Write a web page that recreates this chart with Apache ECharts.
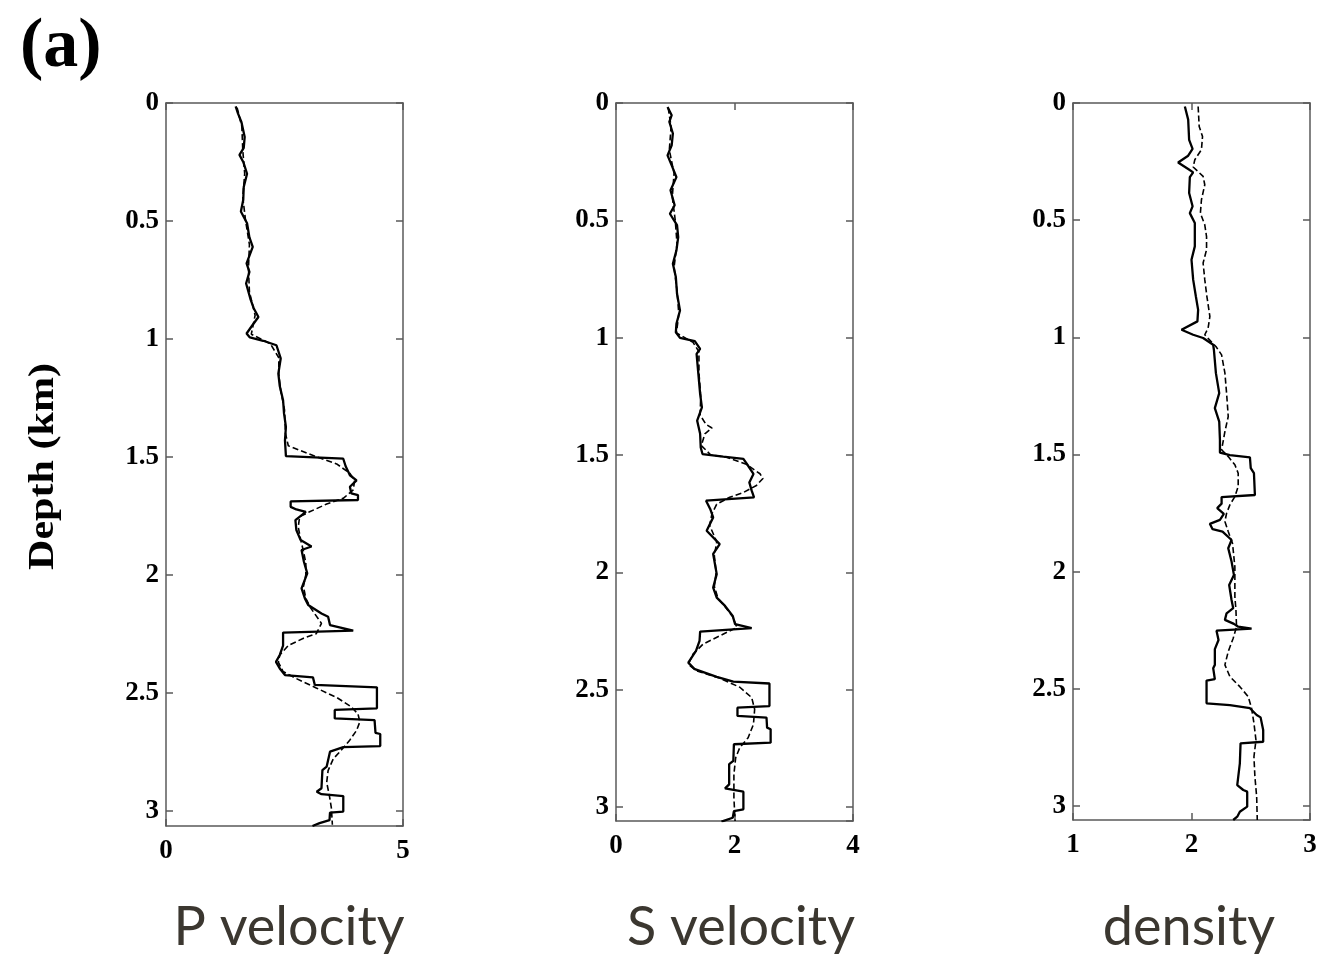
<html>

<head>
  <script src="https://cdn.jsdelivr.net/npm/echarts@6/dist/echarts.min.js"></script>
  <title>Depth logs</title>
</head>

<body style="margin: 0; overflow: hidden;">
  <div id="main" style="width: 1321px; height: 958px;"></div>
  <script>
    var pSolid = [
      [1.47, 0.014], [1.52, 0.045], [1.59, 0.08], [1.66, 0.144], [1.64, 0.19], [1.55, 0.22], [1.63, 0.25],
      [1.71, 0.30], [1.64, 0.356], [1.63, 0.41], [1.58, 0.46], [1.71, 0.51], [1.76, 0.57], [1.83, 0.61],
      [1.70, 0.68], [1.76, 0.716], [1.69, 0.765], [1.78, 0.83], [1.85, 0.87], [1.95, 0.907], [1.83, 0.94],
      [1.70, 0.977], [1.77, 0.994], [2.05, 1.008], [2.33, 1.027], [2.33, 1.034], [2.42, 1.083], [2.37, 1.147],
      [2.40, 1.20], [2.47, 1.26], [2.49, 1.316], [2.53, 1.373], [2.51, 1.43], [2.53, 1.497], [3.74, 1.508],
      [3.79, 1.54], [3.88, 1.578], [4.02, 1.60], [3.88, 1.627], [3.91, 1.655], [4.05, 1.662], [4.05, 1.683],
      [2.63, 1.689], [2.63, 1.712], [2.75, 1.723], [2.95, 1.733], [2.73, 1.768], [2.75, 1.81], [2.84, 1.853],
      [3.07, 1.88], [2.86, 1.895], [2.91, 1.945], [2.98, 1.994], [2.86, 2.058], [2.93, 2.10], [3.0, 2.128],
      [3.28, 2.164], [3.42, 2.178], [3.46, 2.213], [3.45, 2.22], [3.95, 2.237], [2.47, 2.245], [2.47, 2.30],
      [2.40, 2.34], [2.32, 2.369], [2.40, 2.397], [2.51, 2.425], [3.10, 2.435], [3.14, 2.467], [4.45, 2.477],
      [4.45, 2.566], [3.56, 2.573], [3.56, 2.609], [4.40, 2.616], [4.42, 2.67], [4.52, 2.675], [4.52, 2.726],
      [3.74, 2.731], [3.46, 2.75], [3.39, 2.813], [3.30, 2.828], [3.28, 2.905], [3.18, 2.92], [3.28, 2.93],
      [3.74, 2.938], [3.74, 3.004], [3.46, 3.008], [3.45, 3.04], [3.24, 3.053], [3.09, 3.065]
    ];
    var pDashed = [
      [1.50, 0.02], [1.60, 0.10], [1.62, 0.20], [1.66, 0.30], [1.62, 0.40], [1.68, 0.50], [1.76, 0.60],
      [1.74, 0.70], [1.76, 0.80], [1.88, 0.90], [1.80, 0.98], [2.20, 1.02], [2.38, 1.08], [2.38, 1.15],
      [2.42, 1.22], [2.50, 1.30], [2.52, 1.40], [2.58, 1.453], [3.17, 1.50], [3.60, 1.53], [3.88, 1.57],
      [3.98, 1.60], [3.95, 1.64], [3.74, 1.676], [3.39, 1.70], [3.03, 1.733], [2.82, 1.754], [2.79, 1.797],
      [2.84, 1.85], [2.90, 1.90], [2.95, 1.95], [2.95, 2.0], [2.90, 2.05], [2.95, 2.10], [3.05, 2.14],
      [3.28, 2.206], [3.17, 2.25], [2.89, 2.27], [2.58, 2.30], [2.40, 2.34], [2.37, 2.37], [2.47, 2.41],
      [2.75, 2.44], [3.17, 2.48], [3.60, 2.52], [3.91, 2.56], [4.05, 2.59], [4.09, 2.623], [4.02, 2.66],
      [3.88, 2.70], [3.67, 2.75], [3.53, 2.78], [3.42, 2.83], [3.39, 2.88], [3.45, 2.94], [3.49, 2.99],
      [3.51, 3.06]
    ];
    var sSolid = [
      [0.87, 0.017], [0.94, 0.052], [0.90, 0.08], [0.96, 0.13], [0.94, 0.18], [0.87, 0.223], [0.94, 0.266],
      [1.02, 0.316], [0.92, 0.372], [0.99, 0.436], [0.91, 0.472], [1.03, 0.52], [1.05, 0.572], [1.02, 0.628],
      [0.96, 0.685], [1.01, 0.742], [1.03, 0.813], [1.08, 0.884], [1.02, 0.941], [1.01, 0.977], [1.08, 1.001],
      [1.33, 1.015], [1.42, 1.048], [1.36, 1.069], [1.39, 1.154], [1.42, 1.24], [1.45, 1.297], [1.37, 1.354],
      [1.42, 1.41], [1.43, 1.468], [1.46, 1.496], [1.81, 1.507], [2.15, 1.517], [2.23, 1.546], [2.32, 1.581],
      [2.25, 1.617], [2.29, 1.652], [2.33, 1.681], [1.52, 1.695], [1.59, 1.73], [1.64, 1.766], [1.53, 1.823],
      [1.75, 1.88], [1.64, 1.922], [1.70, 2.008], [1.64, 2.065], [1.70, 2.108], [1.84, 2.143], [1.97, 2.186],
      [2.01, 2.221], [2.29, 2.238], [1.42, 2.253], [1.41, 2.292], [1.35, 2.335], [1.22, 2.385], [1.33, 2.413],
      [1.70, 2.446], [1.98, 2.466], [2.59, 2.474], [2.59, 2.57], [2.05, 2.577], [2.05, 2.612], [2.54, 2.619],
      [2.55, 2.662], [2.61, 2.669], [2.61, 2.726], [1.99, 2.733], [1.98, 2.804], [1.91, 2.818], [1.91, 2.904],
      [1.84, 2.921], [2.15, 2.935], [2.15, 3.01], [1.99, 3.018], [1.97, 3.046], [1.78, 3.063]
    ];
    var sDashed = [
      [0.88, 0.02], [0.93, 0.10], [0.90, 0.20], [0.98, 0.30], [0.95, 0.40], [1.00, 0.50], [1.03, 0.60],
      [0.98, 0.70], [1.03, 0.80], [1.06, 0.90], [1.02, 0.98], [1.30, 1.02], [1.40, 1.06], [1.40, 1.15],
      [1.43, 1.25], [1.42, 1.33], [1.52, 1.37], [1.62, 1.385], [1.50, 1.41], [1.44, 1.46], [1.60, 1.50],
      [1.87, 1.51], [2.20, 1.54], [2.43, 1.58], [2.48, 1.60], [2.37, 1.63], [2.15, 1.66], [1.92, 1.68],
      [1.70, 1.71], [1.62, 1.75], [1.58, 1.80], [1.70, 1.87], [1.66, 1.93], [1.69, 2.0], [1.66, 2.06],
      [1.72, 2.11], [1.85, 2.15], [1.97, 2.19], [2.04, 2.235], [1.75, 2.271], [1.47, 2.306], [1.30, 2.349],
      [1.22, 2.392], [1.36, 2.42], [1.75, 2.451], [2.09, 2.49], [2.29, 2.534], [2.34, 2.584], [2.32, 2.648],
      [2.23, 2.705], [2.09, 2.747], [2.02, 2.79], [1.99, 2.861], [1.99, 2.961], [2.01, 3.06]
    ];
    var rhoSolid = [
      [1.944, 0.015], [1.972, 0.071], [1.98, 0.157], [2.009, 0.196], [1.972, 0.225], [1.887, 0.254],
      [1.972, 0.282], [2.014, 0.296], [1.986, 0.316], [1.98, 0.384], [2.009, 0.441], [1.986, 0.47],
      [2.028, 0.512], [2.028, 0.612], [2.0, 0.669], [2.014, 0.754], [2.037, 0.826], [2.056, 0.883],
      [2.05, 0.932], [1.916, 0.968], [2.014, 0.989], [2.098, 1.003], [2.183, 1.032], [2.189, 1.053],
      [2.206, 1.153], [2.234, 1.238], [2.197, 1.302], [2.234, 1.36], [2.24, 1.438], [2.24, 1.492],
      [2.324, 1.503], [2.493, 1.512], [2.5, 1.558], [2.527, 1.58], [2.535, 1.673], [2.254, 1.682],
      [2.254, 1.71], [2.217, 1.729], [2.273, 1.754], [2.24, 1.779], [2.155, 1.796], [2.178, 1.819],
      [2.262, 1.829], [2.338, 1.865], [2.31, 1.9], [2.338, 1.957], [2.358, 2.014], [2.318, 2.057],
      [2.338, 2.121], [2.352, 2.156], [2.296, 2.178], [2.282, 2.206], [2.358, 2.223], [2.394, 2.235],
      [2.507, 2.243], [2.211, 2.252], [2.228, 2.292], [2.197, 2.331], [2.197, 2.398], [2.183, 2.412],
      [2.197, 2.459], [2.127, 2.465], [2.127, 2.562], [2.324, 2.57], [2.493, 2.583], [2.55, 2.612],
      [2.583, 2.622], [2.605, 2.676], [2.605, 2.726], [2.414, 2.733], [2.408, 2.818], [2.386, 2.911],
      [2.437, 2.932], [2.47, 2.939], [2.47, 3.003], [2.408, 3.025], [2.386, 3.046], [2.352, 3.06]
    ];
    var rhoDashed = [
      [2.056, 0.015], [2.065, 0.10], [2.093, 0.143], [2.084, 0.199], [2.028, 0.242], [2.014, 0.273],
      [2.098, 0.313], [2.112, 0.349], [2.084, 0.413], [2.075, 0.47], [2.112, 0.52], [2.127, 0.57],
      [2.127, 0.626], [2.098, 0.683], [2.112, 0.754], [2.13, 0.826], [2.155, 0.911], [2.14, 0.961],
      [2.112, 0.989], [2.178, 1.025], [2.206, 1.039], [2.254, 1.075], [2.282, 1.153], [2.296, 1.238],
      [2.31, 1.338], [2.282, 1.402], [2.254, 1.48], [2.31, 1.509], [2.366, 1.544], [2.394, 1.58],
      [2.394, 1.637], [2.366, 1.68], [2.324, 1.715], [2.296, 1.751], [2.282, 1.786], [2.31, 1.829],
      [2.346, 1.879], [2.366, 1.979], [2.366, 2.107], [2.375, 2.163], [2.38, 2.235], [2.352, 2.284],
      [2.31, 2.341], [2.282, 2.398], [2.324, 2.448], [2.408, 2.491], [2.479, 2.534], [2.507, 2.583],
      [2.527, 2.647], [2.544, 2.719], [2.527, 2.79], [2.535, 2.875], [2.55, 2.961], [2.555, 3.06]
    ];

    var panelNames = ['P velocity', 'S velocity', 'density'];
    var xRanges = [[0, 5, 5], [0, 4, 2], [1, 3, 1]];
    var depthMax = [3.065, 3.06, 3.06];
    var tickLabelsY = [0, 0.5, 1, 1.5, 2, 2.5, 3];

    var boxes = [
      { left: 166, top: 103, width: 237, height: 723 },
      { left: 616, top: 103, width: 237, height: 718 },
      { left: 1073, top: 103, width: 237, height: 717 }
    ];
    var nameCenters = [289, 741, 1189];
    var frameColor = '#5a5a5a';

    var grids = [], xAxes = [], yAxes = [], series = [], graphics = [];
    for (let i = 0; i < 3; ++i) {
      grids.push(boxes[i]);
      var line = { show: true, onZero: false, lineStyle: { color: frameColor, width: 1.5 } };
      var tick = { show: true, inside: true, length: 7, lineStyle: { color: frameColor, width: 1.5 } };
      xAxes.push({
        type: 'value', gridIndex: i, position: 'bottom', min: xRanges[i][0], max: xRanges[i][1],
        interval: xRanges[i][2], splitLine: { show: false }, axisLine: line, axisTick: tick,
        axisLabel: {
          margin: 4, fontFamily: 'Liberation Serif', fontWeight: 'bold', fontSize: 27, color: '#000'
        }
      });
      xAxes.push({
        type: 'value', gridIndex: i, position: 'top', min: xRanges[i][0], max: xRanges[i][1],
        interval: xRanges[i][2], splitLine: { show: false }, axisLine: line, axisTick: tick,
        axisLabel: { show: false }
      });
      yAxes.push({
        type: 'value', gridIndex: i, position: 'left', inverse: true, min: 0, max: depthMax[i],
        interval: 0.5, splitLine: { show: false }, axisLine: line, axisTick: tick,
        axisLabel: {
          margin: 7, showMaxLabel: false,
          fontFamily: 'Liberation Serif', fontWeight: 'bold', fontSize: 27, color: '#000',
          formatter: function (v) { return tickLabelsY.indexOf(v) >= 0 ? String(v) : ''; }
        }
      });
      yAxes.push({
        type: 'value', gridIndex: i, position: 'right', inverse: true, min: 0, max: depthMax[i],
        interval: 0.5, splitLine: { show: false }, axisLine: line, axisTick: tick,
        axisLabel: { show: false }
      });
      graphics.push({
        type: 'text', x: nameCenters[i], y: 887,
        style: { text: panelNames[i], align: 'center', fill: '#3b3730', font: '54px Lato' }
      });
    }

    var solids = [pSolid, sSolid, rhoSolid];
    var dashes = [pDashed, sDashed, rhoDashed];
    for (let i = 0; i < 3; ++i) {
      series.push({
        type: 'line', xAxisIndex: 2 * i, yAxisIndex: 2 * i, data: dashes[i], symbol: 'none', z: 2,
        lineStyle: { color: '#000', width: 1.6, type: [6, 3] }
      });
      series.push({
        type: 'line', xAxisIndex: 2 * i, yAxisIndex: 2 * i, data: solids[i], symbol: 'none', z: 3,
        lineStyle: { color: '#000', width: 2.3 }
      });
    }

    graphics.push({
      type: 'text', x: 20, y: -7,
      style: { text: '(a)', fill: '#000', font: 'bold 70px "Liberation Serif"' }
    });
    graphics.push({
      type: 'text', x: 15, y: 570, rotation: Math.PI / 2, scaleX: 1.17,
      style: { text: 'Depth (km)', fill: '#000', font: 'bold 36px "Liberation Serif"', verticalAlign: 'top' }
    });

    var myChart = echarts.init(document.getElementById('main'));
    myChart.setOption({
      animation: false,
      backgroundColor: '#fff',
      grid: grids,
      xAxis: xAxes,
      yAxis: yAxes,
      series: series,
      graphic: graphics
    });
  </script>
</body>

</html>
